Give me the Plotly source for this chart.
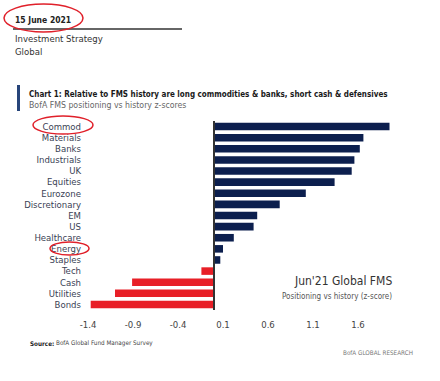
import plotly.graph_objects as go

categories = ["Commod", "Materials", "Banks", "Industrials", "UK", "Equities", "Eurozone",
              "Discretionary", "EM", "US", "Healthcare", "Energy", "Staples", "Tech",
              "Cash", "Utilities", "Bonds"]
zscores = [1.95, 1.66, 1.62, 1.56, 1.53, 1.34, 1.02, 0.73, 0.48, 0.44, 0.22, 0.10, 0.07,
           -0.14, -0.91, -1.10, -1.37]
tick_vals = [-1.4, -0.9, -0.4, 0.1, 0.6, 1.1, 1.6]
tick_text = ["-1.4", "-0.9", "-0.4", "0.1", "0.6", "1.1", "1.6"]

NAVY = "#0c1f4e"
RED = "#e81f27"
colors = [NAVY if v >= 0 else RED for v in zscores]

W, H = 440, 381
L, R, T, B = 84, 46, 121, 71
PW, PH = W - L - R, H - T - B

def px(x):
    return (x - L) / PW

def py(y):
    return 1 - (y - T) / PH

FONT = "DejaVu Sans Condensed, Liberation Sans, sans-serif"

fig = go.Figure(go.Bar(
    x=zscores, y=categories, orientation="h",
    marker=dict(color=colors, line=dict(width=0)),
    width=0.68,
))

annotations = []
def txt(x, y, text, size, color, anchor="left", bold=False):
    if bold:
        text = "<b>" + text + "</b>"
    annotations.append(dict(x=px(x), y=py(y), xref="paper", yref="paper", text=text,
                            showarrow=False, xanchor=anchor, yanchor="middle",
                            font=dict(family=FONT, size=size, color=color)))

txt(13, 20, "15 June 2021", 8.5, "#222222", bold=True)
txt(13, 39, "Investment Strategy", 9.5, "#333333")
txt(13, 51, "Global", 9.5, "#333333")
txt(27, 94, "Chart 1: Relative to FMS history are long commodities &amp; banks, short cash &amp; defensives", 8, "#1a1a1a", bold=True)
txt(27, 105, "BofA FMS positioning vs history z-scores", 8.7, "#666666")
txt(394, 281, "Jun'21 Global FMS", 12, "#333333", anchor="right")
txt(394, 296, "Positioning vs history (z-score)", 8, "#555555", anchor="right")
txt(28, 343, "Source:", 6.3, "#222222", bold=True)
txt(54, 343, "BofA Global Fund Manager Survey", 6.3, "#444444")
txt(415, 352, "BofA GLOBAL RESEARCH", 6.3, "#777777", anchor="right")

shapes = []
def pshape(kind, x0, y0, x1, y1, **kw):
    d = dict(type=kind, xref="paper", yref="paper", x0=px(x0), x1=px(x1), y0=py(y0), y1=py(y1))
    d.update(kw)
    shapes.append(d)

pshape("line", 13, 29, 182, 29, line=dict(color="#333333", width=1.5))
pshape("rect", 17, 85, 20, 111, fillcolor="#27457a", line=dict(width=0))
ell = dict(color="#e0202a", width=1.5)
pshape("circle", 4, 4, 83, 32, line=ell)
pshape("circle", 33, 116, 93, 134, line=ell)
pshape("circle", 50, 242, 89, 255, line=ell)
shapes.append(dict(type="line", xref="x", yref="paper", x0=0, x1=0, y0=0, y1=1,
                   line=dict(color="#333333", width=2), layer="above"))

fig.update_layout(
    width=W, height=H,
    margin=dict(l=L, r=R, t=T, b=B),
    paper_bgcolor="white", plot_bgcolor="white",
    showlegend=False,
    bargap=0.32,
    annotations=annotations,
    shapes=shapes,
    xaxis=dict(range=[-1.4444, 2.0], tickmode="array", tickvals=tick_vals, ticktext=tick_text,
               showgrid=False, zeroline=False, showline=False, ticks="",
               tickfont=dict(family=FONT, size=9.5, color="#444444"),
               ticklabelstandoff=7, fixedrange=True),
    yaxis=dict(autorange="reversed", tickmode="array", tickvals=categories, ticktext=categories,
               showgrid=False, zeroline=False, showline=False,
               ticks="", tickfont=dict(family=FONT, size=9.5, color="#3a3f55"),
               ticklabelstandoff=2, fixedrange=True),
)

fig.write_html("out.html", config={"displayModeBar": False},
               post_script="document.body.style.margin='0';document.body.style.overflow='hidden';")
